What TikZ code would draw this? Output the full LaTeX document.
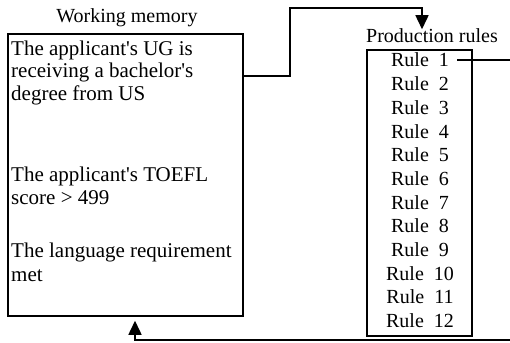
\documentclass[tikz,border=0pt]{standalone}
\usepackage{fontspec}
\setmainfont{Liberation Serif}[Ligatures=TeXOff]
\usetikzlibrary{arrows.meta,calc}
\begin{document}
\begin{tikzpicture}[x=1pt,y=1pt,
  box/.style={draw,line width=1.5pt,inner sep=0pt},
  conn/.style={line width=1.5pt},
  arr/.style={conn,-{Triangle[width=13pt,length=14pt]}},
  wmtext/.style={anchor=base west,inner sep=0pt,font=\fontsize{21}{23}\selectfont},
  ruletext/.style={anchor=base,inner sep=0pt,font=\fontsize{20}{23}\selectfont},
  title/.style={anchor=base,inner sep=0pt,font=\fontsize{20}{23}\selectfont}]
\useasboundingbox (0,0) rectangle (510,342);
% working memory
\node[box,minimum width=235pt,minimum height=282pt] (wm) at (125.5,167) {};
\node[title] (wmt) at (127,319) {Working memory};
\node[wmtext] (l1) at (11,286) {The applicant's UG is};
\node[wmtext] (l2) at (11,264) {receiving a bachelor's};
\node[wmtext] (l3) at (11,241) {degree from US};
\node[wmtext] (l4) at (11,160) {The applicant's TOEFL};
\node[wmtext] (l5) at (11,137) {score > 499};
\node[wmtext] (l6) at (11,84) {The language requirement};
\node[wmtext] (l7) at (11,60) {met};
% production rules
\node[box,minimum width=105pt,minimum height=286pt] (pr) at (419.5,149) {};
\node[title] (prt) at (432,299) {Production rules};
\foreach \i in {1,...,12}
  \node[ruletext] (r\i) at (420,{275-23.7*(\i-1)}) {Rule\ \ \i};
% connectors
\coordinate (re) at (510,0);
\coordinate (be) at (510,2);
\draw[arr] ($(wm.north east)+(0,-43)$) -- ++(46,0) |- ($(pr.north)+(2.5,41)$) -- ($(pr.north)+(2.5,20)$);
\draw[conn] ([xshift=8pt]r1.east) -- (r1.east -| re);
\draw[arr] (be) -| ($(wm.south)+(9.5,-4)$);
\end{tikzpicture}
\end{document}
